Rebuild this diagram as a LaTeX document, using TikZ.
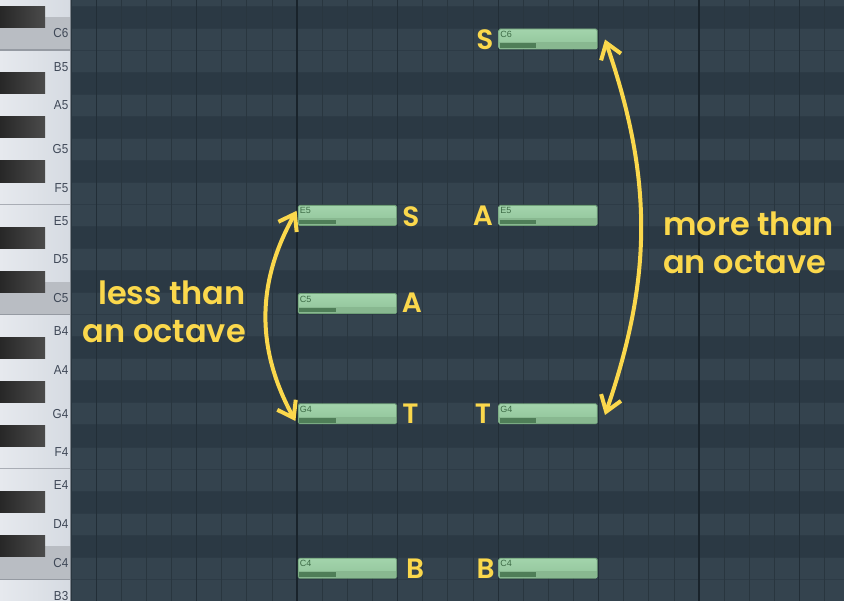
\documentclass[tikz,border=0pt]{standalone}
\usepackage{fontspec}
\usetikzlibrary{arrows.meta}
\newfontfamily\labfont{Poppins}[UprightFont={* SemiBold}]
\newfontfamily\keyfont{Liberation Sans}[FakeStretch=0.9]
\newfontfamily\notefont{Liberation Sans}
\definecolor{rowlight}{HTML}{34434E}
\definecolor{rowdark}{HTML}{2B3944}
\definecolor{rowsep}{HTML}{2D3B46}
\definecolor{stepline}{HTML}{29363F}
\definecolor{beatline}{HTML}{222E37}
\definecolor{barline}{HTML}{19232B}
\definecolor{whitekeyA}{HTML}{E6E9EE}
\definecolor{whitekeyB}{HTML}{D6DBE2}
\definecolor{ckey}{HTML}{B9BDC3}
\definecolor{keysep}{HTML}{959AA2}
\definecolor{blackkeyA}{HTML}{272727}
\definecolor{blackkeyB}{HTML}{4B4B4B}
\definecolor{pianoedge}{HTML}{80878F}
\definecolor{keytext}{HTML}{3E4756}
\definecolor{notetop}{HTML}{A3D4AC}
\definecolor{notebot}{HTML}{90C399}
\definecolor{notestrip}{HTML}{88B890}
\definecolor{noteedge}{HTML}{6E9E77}
\definecolor{velbar}{HTML}{4F7E58}
\definecolor{notetext}{HTML}{3E6C47}
\definecolor{accent}{HTML}{FBD84C}
\tikzset{
  keylabel/.style={anchor=east, inner sep=0pt, text=keytext, font=\keyfont\fontsize{13}{13}\selectfont},
  note/.style={rectangle, rounded corners=1.5pt, minimum width=98.5pt, minimum height=20pt,
    inner sep=0pt, draw=noteedge, line width=0.8pt, top color=notetop, bottom color=notebot},
  notelbl/.style={inner sep=0pt, text=notetext, font=\notefont\fontsize{9}{9}\selectfont},
  voice/.style={inner sep=0pt, text=accent, font=\labfont\fontsize{28}{28}\selectfont},
  bigtxt/.style={inner sep=0pt, text=accent, font=\labfont\fontsize{32}{38}\selectfont},
  span/.style={draw=accent, line width=4pt,
    {Straight Barb[length=15pt,width=21pt]}-{Straight Barb[length=15pt,width=21pt]}},
}
\begin{document}
\begin{tikzpicture}[x=1pt,y=-1pt]
\useasboundingbox (0,0) rectangle (844,601);
\clip (0,0) rectangle (844,601);
% grid rows
\foreach \n in {-2,...,27}{
  \pgfmathsetmacro\yc{568.2-\n*22.05}
  \pgfmathtruncatemacro\pc{mod(\n+24,12)}
  \pgfmathtruncatemacro\blk{(\pc==1)||(\pc==3)||(\pc==6)||(\pc==8)||(\pc==10)}
  \ifnum\blk=1 \def\rc{rowdark}\else\def\rc{rowlight}\fi
  \fill[\rc] (71,\yc-11.025) rectangle (844,\yc+11.025);
  \draw[rowsep, line width=0.8pt] (71,\yc+11.025) -- (844,\yc+11.025);
}
% vertical grid lines
\foreach \k in {0,...,31}{
  \pgfmathsetmacro\xx{71+25.125*\k}
  \pgfmathtruncatemacro\mb{mod(\k,16)}
  \pgfmathtruncatemacro\mq{mod(\k,4)}
  \ifnum\mb=9
    \draw[barline, line width=2pt] (\xx,0) -- (\xx,601);
  \else\ifnum\mq=1
    \draw[beatline, line width=1.2pt] (\xx,0) -- (\xx,601);
  \else
    \draw[stepline, line width=1pt] (\xx,0) -- (\xx,601);
  \fi\fi
}
% piano keyboard
\shade[left color=whitekeyA, right color=whitekeyB] (0,0) rectangle (70,601);
\foreach \n in {0,12,24}{
  \pgfmathsetmacro\yc{568.2-\n*22.05}
  \fill[ckey] (0,\yc-22.05) rectangle (70,\yc+11.025);
  \draw[keysep, line width=1.2pt] (0,\yc+11.025) -- (70,\yc+11.025);
}
\foreach \n in {5,17}{
  \pgfmathsetmacro\yc{568.2-\n*22.05}
  \draw[keysep!70!whitekeyB, line width=1pt] (0,\yc+11.025) -- (70,\yc+11.025);
}
\foreach \n in {-2,1,3,6,8,10,13,15,18,20,22,25,27}{
  \pgfmathsetmacro\yc{568.2-\n*22.05}
  \shade[left color=blackkeyA, right color=blackkeyB] (0,\yc-10.3) rectangle (45,\yc+10.8);
}
\draw[pianoedge, line width=1.6pt] (70.6,0) -- (70.6,601);
% key labels
\foreach \nm/\yy in {D6/-5.1, C6/33.5, B5/66.6, A5/105.15, G5/149.25, F5/187.8, E5/220.9, D5/259.5,
  C5/298.1, B4/331.2, A4/369.75, G4/413.85, F4/452.4, E4/485.5, D4/524.1, C4/562.7, B3/595.8}{
  \node[keylabel] (k\nm) at (68.5,\yy) {\nm};
}
% notes
\foreach \nm/\x/\y/\lbl in {nE5L/297.8/215.4/E5, nC5L/297.8/303.6/C5, nG4L/297.8/413.85/G4,
  nC4L/297.8/568.2/C4, nC6R/498.3/39/C6, nE5R/498.3/215.4/E5, nG4R/498.3/413.85/G4, nC4R/498.3/568.2/C4}{
  \node[note, anchor=west] (\nm) at (\x,\y) {};
  \fill[notestrip] ([shift={(0.8,-0.8)}]\nm.south west) rectangle ([shift={(-0.8,-7.3)}]\nm.south east);
  \fill[velbar] ([shift={(1.4,-1.6)}]\nm.south west) rectangle ([shift={(37.7,-6.2)}]\nm.south west);
  \node[notelbl, anchor=north west] (\nm-t) at ([shift={(1.8,2.4)}]\nm.north west) {\lbl};
}
% voice letters
\node[voice] (lS) at (411,216.3) {S};
\node[voice] (lA) at (412,302.5) {A};
\node[voice] (lT) at (410.5,413.5) {T};
\node[voice] (lB) at (415,568.5) {B};
\node[voice] (rS) at (485,39.3) {S};
\node[voice] (rA) at (483,215.3) {A};
\node[voice] (rT) at (483,413.5) {T};
\node[voice] (rB) at (485.7,568.5) {B};
% interval labels
\node[bigtxt, align=right, anchor=base east] (lessT) at (246,343) {less than\\an octave};
\node[bigtxt, align=left, anchor=base west] (moreT) at (663,274) {more than\\an octave};
% arrows
\coordinate (la1) at (296.6,210.8);
\coordinate (la2) at (295.4,421);
\coordinate (ra1) at (605,39.5);
\coordinate (ra2) at (605,415);
\draw[span] (la1) to[bend right=29] (la2);
\draw[span] (ra1) to[bend left=19] (ra2);
\end{tikzpicture}
\end{document}
